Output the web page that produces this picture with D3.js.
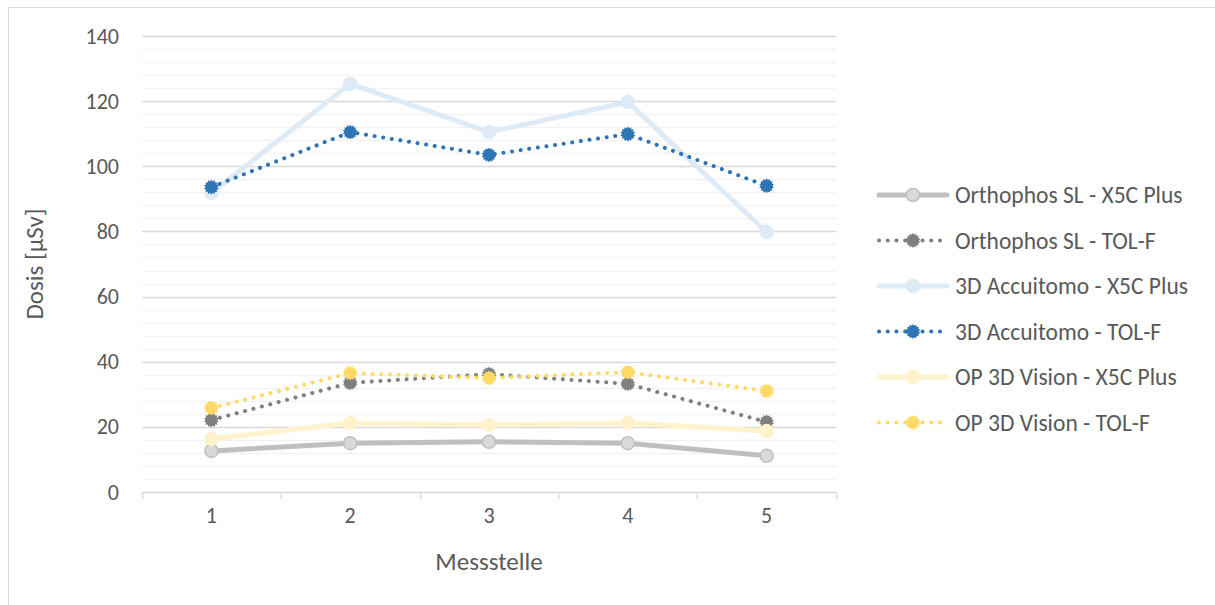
<!DOCTYPE html>
<html>
<head>
<meta charset="utf-8">
<script src="https://cdn.jsdelivr.net/npm/d3@7"></script>
<style>
  html, body { margin: 0; padding: 0; background: #fff; }
  svg { display: block; }
  text { font-family: Carlito, Calibri, Lato, "Noto Sans", sans-serif; fill: #595959; }
</style>
</head>
<body>
<svg id="chart" width="1215" height="605"></svg>
<script>
// Measuring points (x categories)
const categories = ["1", "2", "3", "4", "5"];

// Dose per measuring point, µSv
const orthophosX5C = [12.6, 15.0, 15.4, 15.0, 11.1];
const orthophosTOL = [22.1, 33.5, 36.2, 33.2, 21.5];
const accuitomoX5C = [91.8, 125.3, 110.5, 119.7, 79.8];
const accuitomoTOL = [93.6, 110.5, 103.5, 109.9, 94.0];
const op3dX5C = [16.3, 21.2, 20.6, 21.2, 18.7];
const op3dTOL = [25.8, 36.5, 35.0, 36.8, 31.0];

const yTicks = [0, 20, 40, 60, 80, 100, 120, 140];

const seriesNames = [
  "Orthophos SL - X5C Plus",
  "Orthophos SL - TOL-F",
  "3D Accuitomo - X5C Plus",
  "3D Accuitomo - TOL-F",
  "OP 3D Vision - X5C Plus",
  "OP 3D Vision - TOL-F"
];

const series = [
  { name: seriesNames[0], values: orthophosX5C, dotted: false, line: "#BFBFBF", fill: "#D9D9D9", stroke: "#BFBFBF" },
  { name: seriesNames[1], values: orthophosTOL, dotted: true,  line: "#7F7F7F", fill: "#7F7F7F", stroke: "#7F7F7F" },
  { name: seriesNames[2], values: accuitomoX5C, dotted: false, line: "#DEEBF7", fill: "#DEEBF7", stroke: "#DEEBF7" },
  { name: seriesNames[3], values: accuitomoTOL, dotted: true,  line: "#2E75B6", fill: "#2E75B6", stroke: "#2E75B6" },
  { name: seriesNames[4], values: op3dX5C,     dotted: false, line: "#FFF2CC", fill: "#FFF2CC", stroke: "#FFF2CC" },
  { name: seriesNames[5], values: op3dTOL,     dotted: true,  line: "#FFD966", fill: "#FFD966", stroke: "#FFD966" }
];

const svg = d3.select("#chart");

// outer chart frame
svg.append("rect")
  .attr("x", 8.5).attr("y", 7.5)
  .attr("width", 1215).attr("height", 620)
  .attr("fill", "none").attr("stroke", "#D9D9D9");

const plot = { left: 142, right: 836, top: 36, bottom: 492 };

const x = d3.scaleBand().domain(categories).range([plot.left, plot.right]);
const y = d3.scaleLinear().domain([0, 140]).range([plot.bottom, plot.top]);

// minor gridlines every 4 units
const minor = d3.range(4, 140, 4).filter(v => v % 20 !== 0);
svg.append("g").selectAll("line").data(minor).join("line")
  .attr("x1", plot.left).attr("x2", plot.right)
  .attr("y1", d => Math.round(y(d)) + 0.5).attr("y2", d => Math.round(y(d)) + 0.5)
  .attr("stroke", "#F2F2F2").attr("stroke-width", 1.5);

// major gridlines
svg.append("g").selectAll("line").data(yTicks.filter(v => v > 0)).join("line")
  .attr("x1", plot.left).attr("x2", plot.right)
  .attr("y1", d => Math.round(y(d)) + 0.5).attr("y2", d => Math.round(y(d)) + 0.5)
  .attr("stroke", "#D9D9D9").attr("stroke-width", 1.5);

// y axis labels
const yAxis = d3.axisLeft(y).tickValues(yTicks).tickSize(0).tickPadding(23);
const gy = svg.append("g").attr("transform", `translate(${plot.left},0)`).call(yAxis);
gy.select(".domain").remove();
gy.selectAll("text").style("font-size", "22px").attr("fill", "#595959")
  .style("font-family", "Carlito, Calibri, Lato, 'Noto Sans', sans-serif");

// x axis: baseline with ticks at category boundaries
const gx = svg.append("g").attr("transform", `translate(0,${plot.bottom})`);
gx.append("line")
  .attr("x1", plot.left).attr("x2", plot.right)
  .attr("y1", 0.5).attr("y2", 0.5)
  .attr("stroke", "#D9D9D9").attr("stroke-width", 1.5);
const boundaries = categories.map(c => x(c)).concat([x(categories[categories.length - 1]) + x.bandwidth()]);
gx.selectAll("line.tick").data(boundaries).join("line")
  .attr("class", "tick")
  .attr("x1", d => Math.round(d) + 0.5).attr("x2", d => Math.round(d) + 0.5)
  .attr("y1", 0).attr("y2", 7)
  .attr("stroke", "#D9D9D9").attr("stroke-width", 1.5);
gx.selectAll("text").data(categories).join("text")
  .attr("x", d => x(d) + x.bandwidth() / 2)
  .attr("y", 15)
  .attr("dy", "0.71em")
  .attr("text-anchor", "middle")
  .style("font-size", "22px")
  .text(d => d);

// axis titles
svg.append("text")
  .attr("x", x("3") + x.bandwidth() / 2).attr("y", 570)
  .attr("text-anchor", "middle")
  .style("font-size", "25px")
  .text("Messstelle");
svg.append("text")
  .attr("transform", `translate(43,${(plot.top + plot.bottom) / 2}) rotate(-90)`)
  .attr("text-anchor", "middle")
  .style("font-size", "25px")
  .text("Dosis [µSv]");

// jagged round marker used for the TOL-F series
function gearPath(r) {
  const n = 14, pts = [];
  for (let i = 0; i < n * 2; i++) {
    const a = (Math.PI * i) / n;
    const rr = i % 2 === 0 ? r : r * 0.78;
    pts.push([rr * Math.sin(a), -rr * Math.cos(a)]);
  }
  return "M" + pts.map(p => p[0].toFixed(2) + "," + p[1].toFixed(2)).join("L") + "Z";
}

const cx = d => x(d) + x.bandwidth() / 2;
const line = d3.line().x((v, i) => cx(categories[i])).y(v => y(v));

function drawLine(g, s, pathData) {
  const p = g.append("path").attr("d", pathData)
    .attr("fill", "none")
    .attr("stroke", s.line)
    .attr("stroke-linejoin", "round")
    .attr("stroke-linecap", "round");
  if (s.dotted) {
    p.attr("stroke-width", 4).attr("stroke-dasharray", "0.1 8.6");
  } else {
    p.attr("stroke-width", 5);
  }
}

function drawMarker(g, s, px, py) {
  if (s.dotted) {
    g.append("path").attr("d", gearPath(7.5))
      .attr("transform", `translate(${px},${py})`)
      .attr("fill", s.fill);
  } else {
    g.append("circle").attr("cx", px).attr("cy", py).attr("r", 6.5)
      .attr("fill", s.fill).attr("stroke", s.stroke).attr("stroke-width", 1.5);
  }
}

const gSeries = svg.append("g");
series.forEach(s => {
  const g = gSeries.append("g");
  drawLine(g, s, line(s.values));
  s.values.forEach((v, i) => drawMarker(g, s, cx(categories[i]), y(v)));
});

// legend
const legend = svg.append("g");
series.forEach((s, i) => {
  const ly = 195 + i * 45.5;
  const g = legend.append("g");
  drawLine(g, s, `M${879},${ly}L${947},${ly}`);
  drawMarker(g, s, 913, ly);
  g.append("text").attr("x", 955).attr("y", ly).attr("dy", "0.35em")
    .style("font-size", "23.5px").text(s.name);
});
</script>
</body>
</html>
